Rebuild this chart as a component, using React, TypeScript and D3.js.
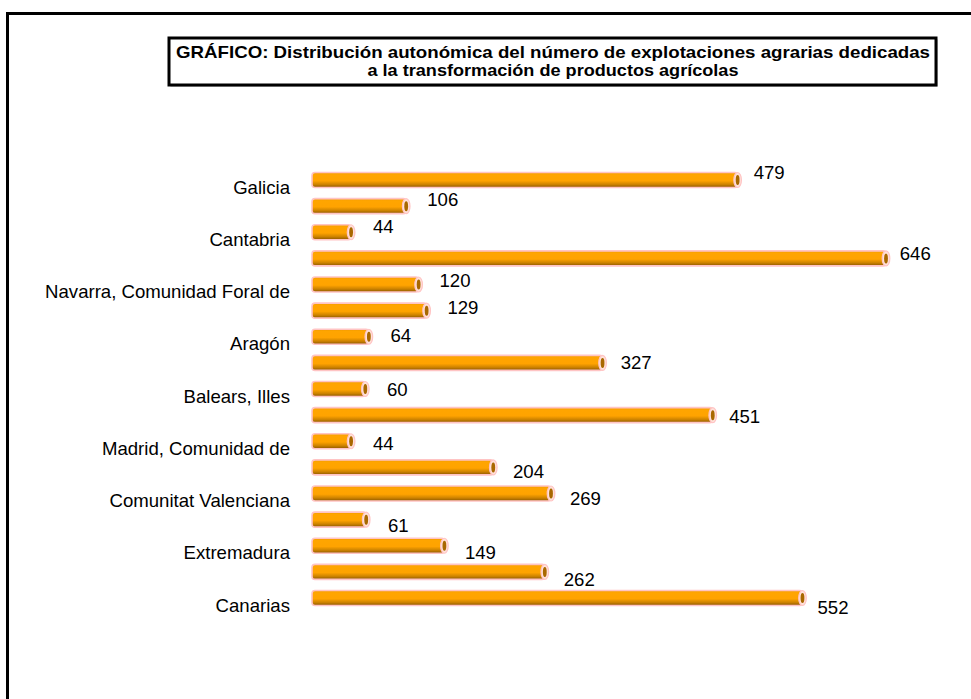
import React from "react";
import * as d3 from "d3";

const categories = [
  "Galicia",
  "Asturias, Principado de",
  "Cantabria",
  "País Vasco",
  "Navarra, Comunidad Foral de",
  "Rioja, La",
  "Aragón",
  "Cataluña",
  "Balears, Illes",
  "Castilla y León",
  "Madrid, Comunidad de",
  "Castilla - La Mancha",
  "Comunitat Valenciana",
  "Murcia, Región de",
  "Extremadura",
  "Andalucía",
  "Canarias",
];
const values = [479, 106, 44, 646, 120, 129, 64, 327, 60, 451, 44, 204, 269, 61, 149, 262, 552];
const titleLines = [
  "GRÁFICO: Distribución autonómica del número de explotaciones agrarias dedicadas",
  "a la transformación de productos agrícolas",
];
const titleWidths = [754, 371];

const W = 971;
const H = 699;
const FONT = "'Liberation Sans', Arial, sans-serif";

export default function App() {
  const x = d3.scaleLinear().domain([0, 700]).range([312, 934]);
  const labelX = d3.scaleLinear().domain([0, 700]).range([334.5, 947]);
  const y = d3.scalePoint<string>().domain(categories).range([180, 598]);
  const labelY = d3.scalePoint<string>().domain(categories).range([172, 607]);
  const barH = 15;

  return (
    <svg
      width={W}
      height={H}
      style={{ position: "absolute", left: 0, top: 0, background: "#fff" }}
      fontFamily={FONT}
    >
      <defs>
        <linearGradient id="cyl" x1="0" y1="0" x2="0" y2="1">
          <stop offset="0" stopColor="#F09A00" />
          <stop offset="0.15" stopColor="#FFA500" />
          <stop offset="0.55" stopColor="#FFA300" />
          <stop offset="0.8" stopColor="#CC8200" />
          <stop offset="1" stopColor="#8A5600" />
        </linearGradient>
      </defs>
      <rect x={0} y={0} width={W} height={H} fill="#fff" />
      {/* outer frame */}
      <path d={`M7.5,${H + 10} V13.5 H${W + 10}`} fill="none" stroke="#000" strokeWidth={3} />

      {/* title box */}
      <rect x={170.5} y={39.5} width={767} height={47} fill="#999" stroke="none" />
      <rect x={169} y={38} width={767} height={47} fill="#fff" stroke="#000" strokeWidth={3} />
      {titleLines.map((t, i) => (
        <text
          key={i}
          x={553}
          y={58 + i * 18}
          textAnchor="middle"
          fontWeight="bold"
          fontSize={17}
          textLength={titleWidths[i]}
          lengthAdjust="spacingAndGlyphs"
        >
          {t}
        </text>
      ))}

      {/* bars */}
      {categories.map((c, i) => {
        const cy = y(c)!;
        const x0 = x(0);
        const x1 = x(values[i]);
        return (
          <g key={c}>
            <rect
              x={x0}
              y={cy - barH / 2}
              width={x1 - x0}
              height={barH}
              rx={3}
              fill="url(#cyl)"
              stroke="#FFC4C4"
              strokeWidth={1.6}
            />
            <ellipse cx={x1} cy={cy} rx={3.8} ry={barH / 2} fill="#FFE2DA" stroke="#FFC4C4" strokeWidth={1.2} />
            <ellipse cx={x1} cy={cy} rx={1.9} ry={barH / 2 - 2.5} fill="#A96800" />
          </g>
        );
      })}

      {/* category labels (every other) */}
      {categories.map((c, i) =>
        i % 2 === 0 ? (
          <text
            key={"l" + c}
            x={290}
            y={y(c)! + 7}
            textAnchor="end"
            dominantBaseline="central"
            fontSize={18.6}
            fill="#000"
          >
            {c}
          </text>
        ) : null
      )}

      {/* value labels */}
      {categories.map((c, i) => (
        <text
          key={"v" + c}
          x={labelX(values[i])}
          y={labelY(c)!}
          dominantBaseline="central"
          fontSize={18.6}
          fill="#000"
        >
          {values[i]}
        </text>
      ))}
    </svg>
  );
}
